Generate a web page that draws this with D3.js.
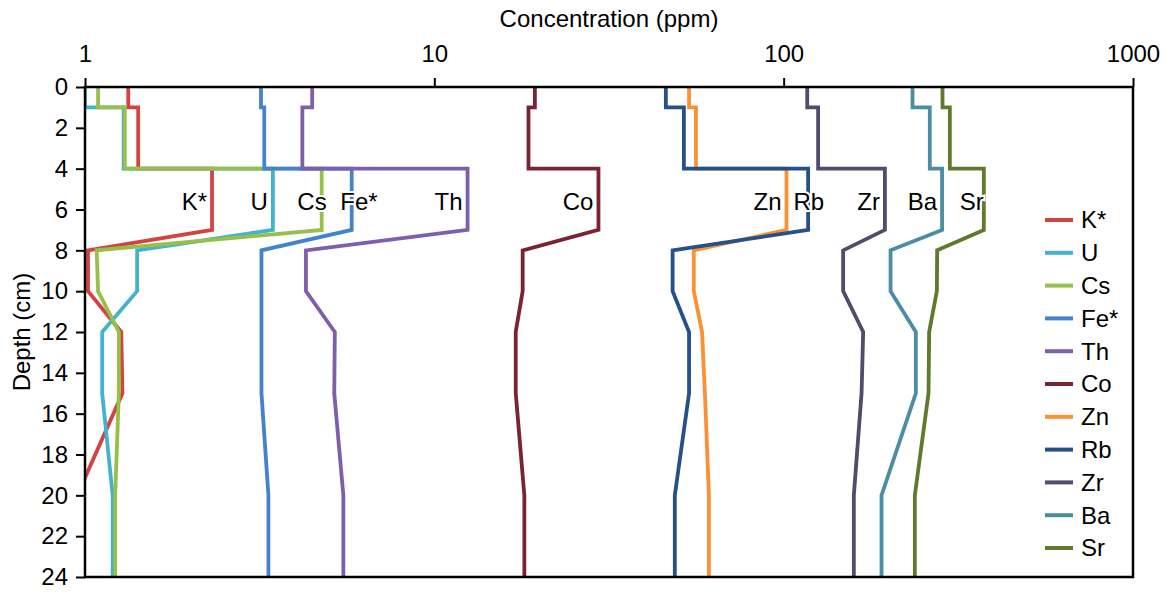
<!DOCTYPE html>
<html>
<head>
<meta charset="utf-8">
<script src="https://cdn.jsdelivr.net/npm/d3@7"></script>
<style>
  body { margin: 0; background: #fff; }
  text { font-family: "Liberation Sans", Arial, Helvetica, sans-serif; fill: #000; }
</style>
</head>
<body>
<svg id="chart" width="1165" height="592"></svg>
<script>
// Sample depth nodes (cm); repeated depths give the stepped upper intervals
const depths = [0, 1, 1, 4, 4, 7, 8, 10, 12, 15, 20, 24];

// Element names, in legend order
const elements = ["K*", "U", "Cs", "Fe*", "Th", "Co", "Zn", "Rb", "Zr", "Ba", "Sr"];

// Concentration (ppm) at each depth node
const kStar   = [1.33, 1.33, 1.42, 1.42, 2.31, 2.31, 1.02, 1.02, 1.27, 1.28, 0.95, 0.90];
const uran    = [1.00, 1.00, 1.29, 1.29, 3.45, 3.45, 1.41, 1.41, 1.12, 1.12, 1.20, 1.20];
const cesium  = [1.09, 1.09, 1.30, 1.30, 4.76, 4.76, 1.08, 1.09, 1.25, 1.25, 1.22, 1.22];
const ironStar= [3.19, 3.19, 3.26, 3.26, 5.80, 5.80, 3.20, 3.20, 3.20, 3.20, 3.35, 3.35];
const thorium = [4.47, 4.47, 4.19, 4.19, 12.45, 12.45, 4.29, 4.29, 5.19, 5.17, 5.49, 5.49];
const cobalt  = [19.4, 19.4, 18.6, 18.6, 29.5, 29.5, 17.9, 17.9, 17.1, 17.1, 18.1, 18.1];
const zinc    = [53.6, 53.6, 56.1, 56.1, 101.9, 101.9, 55.3, 55.3, 58.4, 59.5, 61.1, 61.1];
const rubidium= [46.0, 46.0, 51.8, 51.8, 117.5, 117.5, 48.1, 48.1, 53.6, 53.6, 48.8, 48.8];
const zircon  = [116.8, 116.8, 125.5, 125.5, 194.9, 194.9, 148.0, 148.0, 168.9, 167.1, 158.8, 158.8];
const barium  = [233.8, 233.8, 262.0, 262.0, 284.1, 284.1, 202.3, 202.3, 239.0, 239.0, 190.6, 190.6];
const stront  = [284.9, 284.9, 299.0, 299.0, 374.1, 374.1, 275.0, 274.5, 260.9, 259.8, 237.4, 237.4];

const seriesValues = [kStar, uran, cesium, ironStar, thorium, cobalt, zinc, rubidium, zircon, barium, stront];

// Axis ticks
const xTicks = [1, 10, 100, 1000];
const yTicks = [0, 2, 4, 6, 8, 10, 12, 14, 16, 18, 20, 22, 24];

// Styling
const colors = ["#d3433f", "#43b2cf", "#97c04b", "#4483cb", "#7f5fac", "#7a2333",
                "#fa9134", "#25508a", "#514b6e", "#4b8ea3", "#5f792d"];
const labelShift = { "K*": -5, "U": -5, "Cs": 5, "Fe*": 26, "Th": -5, "Co": -5,
                     "Zn": -5, "Rb": 16, "Zr": -5, "Ba": -5, "Sr": 0 };

const svg = d3.select("#chart");
const plotL = 85, plotR = 1133, plotT = 87, plotB = 577;

const x = d3.scaleLog().domain([1, 1000]).range([plotL, plotR]);
const y = d3.scaleLinear().domain([0, 24]).range([plotT, plotB]);

svg.append("defs").append("clipPath").attr("id", "plotClip")
  .append("rect").attr("x", plotL).attr("y", plotT)
  .attr("width", plotR - plotL).attr("height", plotB - plotT);

// Profiles
const line = d3.line().x(d => x(d[0])).y(d => y(d[1]));
const profiles = svg.append("g").attr("clip-path", "url(#plotClip)");
elements.forEach((el, i) => {
  const pts = depths.map((dep, j) => [seriesValues[i][j], dep]);
  profiles.append("path")
    .attr("d", line(pts))
    .attr("fill", "none")
    .attr("stroke", colors[i])
    .attr("stroke-width", 3.8)
    .attr("stroke-linejoin", "miter");
});

// Element labels inside the enriched band
const labels = svg.append("g");
elements.forEach((el, i) => {
  labels.append("text")
    .attr("x", x(seriesValues[i][4]) + labelShift[el])
    .attr("y", y(6) + 0.5)
    .attr("text-anchor", "end")
    .attr("font-size", 24)
    .attr("stroke", "#fff")
    .attr("stroke-width", 4)
    .attr("paint-order", "stroke")
    .text(el);
});

// Frame
svg.append("rect")
  .attr("x", plotL).attr("y", plotT)
  .attr("width", plotR - plotL).attr("height", plotB - plotT)
  .attr("fill", "none").attr("stroke", "#000").attr("stroke-width", 2.5);

// Top (concentration) axis
const xAxis = d3.axisTop(x).tickValues(xTicks).tickFormat(d3.format("d"))
  .tickSize(9).tickPadding(16);
const gx = svg.append("g").attr("transform", `translate(0,${plotT})`).call(xAxis);
gx.select(".domain").remove();
gx.selectAll(".tick line").attr("stroke", "#000").attr("stroke-width", 2);
gx.selectAll(".tick text").attr("font-size", 24).attr("font-family", "Liberation Sans, Arial, sans-serif");

// Left (depth) axis
const yAxis = d3.axisLeft(y).tickValues(yTicks).tickSize(9).tickPadding(8);
const gy = svg.append("g").attr("transform", `translate(${plotL},0)`).call(yAxis);
gy.select(".domain").remove();
gy.selectAll(".tick line").attr("stroke", "#000").attr("stroke-width", 2);
gy.selectAll(".tick text").attr("font-size", 24).attr("font-family", "Liberation Sans, Arial, sans-serif");

// Axis titles
svg.append("text")
  .attr("x", (plotL + plotR) / 2).attr("y", 27)
  .attr("text-anchor", "middle").attr("font-size", 24)
  .text("Concentration (ppm)");
svg.append("text")
  .attr("transform", `translate(30,${(plotT + plotB) / 2}) rotate(-90)`)
  .attr("text-anchor", "middle").attr("font-size", 24)
  .text("Depth (cm)");

// Legend
const legend = svg.append("g");
elements.forEach((el, i) => {
  const ly = 220 + i * 32.8;
  legend.append("line")
    .attr("x1", 1045).attr("x2", 1073).attr("y1", ly).attr("y2", ly)
    .attr("stroke", colors[i]).attr("stroke-width", 4);
  legend.append("text")
    .attr("x", 1081).attr("y", ly).attr("dy", "0.35em")
    .attr("font-size", 24).text(el);
});
</script>
</body>
</html>
